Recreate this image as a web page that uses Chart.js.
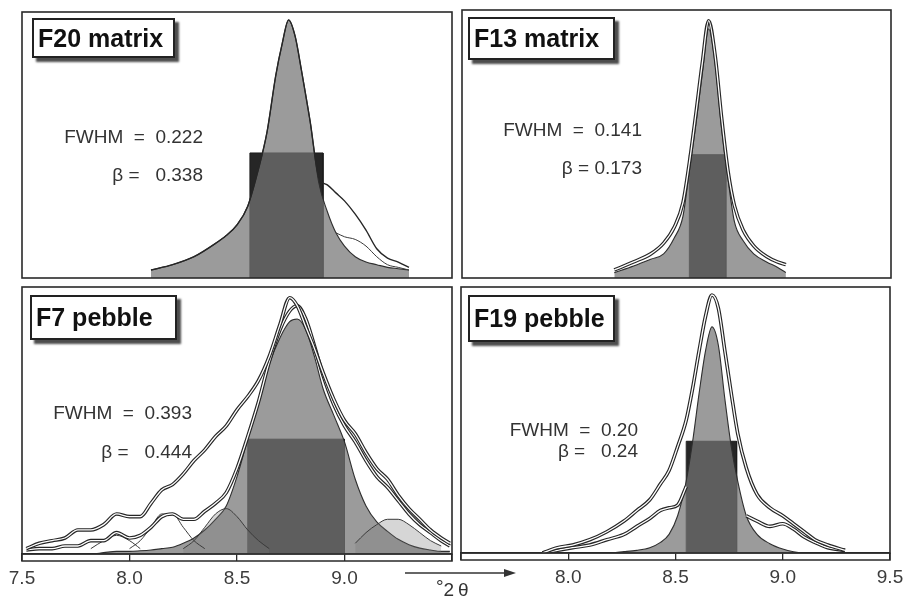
<!DOCTYPE html>
<html>
<head>
<meta charset="utf-8">
<script src="https://cdn.jsdelivr.net/npm/chart.js@4.4.0/dist/chart.umd.min.js"></script>
<style>
  html, body { margin: 0; padding: 0; background: #fff; }
  body { width: 905px; height: 599px; position: relative; overflow: hidden; font-family: "Liberation Sans", Arial, sans-serif; }
  .panel { position: absolute; }
  .panel canvas { display: block; }
  .title { position: absolute; background: #fff; border: 2px solid #222; box-shadow: 4px 4px 2px #4d4d4d; font-weight: bold; font-size: 25px; color: #111; padding-left: 4px; box-sizing: border-box; z-index: 5; white-space: nowrap; }
  .note { position: absolute; font-size: 19px; line-height: 22px; color: #333; white-space: pre; text-align: right; z-index: 5; }
  .unit { position: absolute; left: 436px; top: 579px; font-size: 19px; color: #333; z-index: 5; }
  .unit sup { font-size: 19px; position: relative; top: -3px; vertical-align: baseline; }
</style>
</head>
<body>

<div class="panel" id="pF20"><canvas></canvas></div>
<div class="panel" id="pF13"><canvas></canvas></div>
<div class="panel" id="pF7"><canvas></canvas></div>
<div class="panel" id="pF19"><canvas></canvas></div>

<div class="title" style="left:32px;top:18px;width:143px;height:40px;line-height:36px;">F20 matrix</div>
<div class="title" style="left:468px;top:17px;width:147px;height:43px;line-height:39px;">F13 matrix</div>
<div class="title" style="left:30px;top:295px;width:147px;height:45px;line-height:41px;">F7 pebble</div>
<div class="title" style="left:468px;top:295px;width:147px;height:47px;line-height:43px;">F19 pebble</div>

<div class="note" style="right:702px;top:126px;">FWHM  =  0.222</div>
<div class="note" style="right:702px;top:164px;">β =   0.338</div>
<div class="note" style="right:263px;top:119px;">FWHM  =  0.141</div>
<div class="note" style="right:263px;top:157px;">β = 0.173</div>
<div class="note" style="right:713px;top:402px;">FWHM  =  0.393</div>
<div class="note" style="right:713px;top:441px;">β =   0.444</div>
<div class="note" style="right:267px;top:419px;">FWHM  =  0.20</div>
<div class="note" style="right:267px;top:440px;">β =   0.24</div>

<svg style="position:absolute;left:400px;top:565px;z-index:5" width="120" height="16">
  <line x1="5" y1="8" x2="106" y2="8" stroke="#333" stroke-width="1.6"/>
  <polygon points="104,4 116,8 104,12" fill="#333"/>
</svg>
<div class="unit"><sup>°</sup>2&thinsp;θ</div>

<script>
// Peak profiles around 8.7 °2θ, intensities scaled to the panel height (0..1)

// F20 matrix
const f20Theta = [8.10, 8.20, 8.30, 8.40, 8.45, 8.50, 8.55, 8.60, 8.64, 8.68, 8.71, 8.74, 8.77, 8.80, 8.84, 8.88, 8.92, 8.96, 9.00, 9.05, 9.10, 9.15, 9.20, 9.25, 9.30];
const f20Fit = [0.03, 0.05, 0.08, 0.13, 0.16, 0.20, 0.27, 0.41, 0.55, 0.76, 0.88, 0.97, 0.91, 0.78, 0.59, 0.36, 0.25, 0.17, 0.12, 0.08, 0.06, 0.05, 0.04, 0.035, 0.03];
const f20Scan = [0.03, 0.05, 0.08, 0.13, 0.16, 0.20, 0.27, 0.41, 0.55, 0.76, 0.88, 0.97, 0.91, 0.78, 0.59, 0.38, 0.35, 0.32, 0.29, 0.24, 0.18, 0.11, 0.075, 0.06, 0.04];
const f20Shoulder = [[8.96, 0.17], [9.00, 0.155], [9.05, 0.145], [9.10, 0.12], [9.15, 0.08], [9.20, 0.05], [9.25, 0.04], [9.30, 0.03]];
const f20Box = [8.56, 8.90, 0.47]; // from, to, height

// F13 matrix
const f13Theta = [8.21, 8.30, 8.38, 8.44, 8.49, 8.53, 8.56, 8.59, 8.62, 8.65, 8.68, 8.71, 8.74, 8.77, 8.81, 8.86, 8.92, 8.97, 9.01];
const f13Fit = [0.02, 0.045, 0.07, 0.09, 0.15, 0.23, 0.40, 0.57, 0.76, 0.93, 0.80, 0.56, 0.37, 0.21, 0.14, 0.09, 0.06, 0.04, 0.02];
const f13Scan = [0.03, 0.06, 0.09, 0.13, 0.19, 0.28, 0.43, 0.61, 0.80, 0.96, 0.83, 0.60, 0.40, 0.27, 0.18, 0.12, 0.08, 0.06, 0.05];
const f13Box = [8.56, 8.73, 0.46];

// F7 pebble
const f7Theta = [7.52, 7.58, 7.64, 7.70, 7.76, 7.82, 7.88, 7.94, 8.00, 8.05, 8.10, 8.15, 8.20, 8.25, 8.30, 8.35, 8.40, 8.45, 8.50, 8.55, 8.60, 8.65, 8.70, 8.745, 8.78, 8.82, 8.86, 8.90, 8.95, 9.00, 9.05, 9.10, 9.15, 9.20, 9.25, 9.30, 9.35, 9.40, 9.45, 9.49];
const f7Outer = [0.02, 0.04, 0.05, 0.06, 0.09, 0.09, 0.11, 0.15, 0.14, 0.14, 0.19, 0.24, 0.26, 0.30, 0.35, 0.39, 0.44, 0.48, 0.54, 0.59, 0.65, 0.74, 0.86, 0.96, 0.93, 0.85, 0.77, 0.68, 0.58, 0.50, 0.45, 0.38, 0.32, 0.28, 0.22, 0.17, 0.13, 0.09, 0.06, 0.04];
const f7Inner = [0.015, 0.02, 0.02, 0.03, 0.03, 0.05, 0.05, 0.08, 0.06, 0.07, 0.10, 0.14, 0.15, 0.13, 0.13, 0.16, 0.19, 0.23, 0.32, 0.44, 0.57, 0.72, 0.84, 0.91, 0.93, 0.88, 0.78, 0.67, 0.56, 0.48, 0.42, 0.35, 0.29, 0.25, 0.20, 0.15, 0.11, 0.08, 0.05, 0.03];
const f7Fit = [0, 0, 0, 0, 0, 0, 0.005, 0.01, 0.01, 0.012, 0.015, 0.02, 0.025, 0.04, 0.06, 0.09, 0.13, 0.18, 0.29, 0.43, 0.56, 0.71, 0.81, 0.87, 0.88, 0.84, 0.74, 0.62, 0.52, 0.42, 0.28, 0.18, 0.12, 0.085, 0.055, 0.035, 0.022, 0.015, 0.01, 0.01];
const f7PeakA = [[7.82, 0.02], [7.88, 0.05], [7.94, 0.07], [8.00, 0.05], [8.05, 0.02]];
const f7PeakB = [[8.00, 0.02], [8.05, 0.05], [8.10, 0.10], [8.15, 0.15], [8.20, 0.15], [8.25, 0.10], [8.30, 0.05], [8.35, 0.02]];
const f7PeakC = [[8.25, 0.02], [8.30, 0.05], [8.35, 0.10], [8.40, 0.15], [8.45, 0.17], [8.50, 0.14], [8.55, 0.09], [8.60, 0.05], [8.65, 0.02]];
const f7PeakD = [[9.05, 0.04], [9.10, 0.08], [9.15, 0.11], [9.20, 0.13], [9.25, 0.13], [9.30, 0.11], [9.35, 0.08], [9.40, 0.05], [9.45, 0.03]];
const f7Box = [8.55, 9.00, 0.43];

// F19 pebble
const f19Theta = [7.88, 7.95, 8.02, 8.10, 8.18, 8.26, 8.32, 8.38, 8.43, 8.47, 8.51, 8.55, 8.58, 8.61, 8.64, 8.67, 8.70, 8.73, 8.76, 8.79, 8.83, 8.88, 8.94, 9.00, 9.05, 9.10, 9.15, 9.21, 9.29];
const f19Outer = [0.00, 0.02, 0.03, 0.05, 0.08, 0.12, 0.16, 0.20, 0.26, 0.31, 0.40, 0.50, 0.62, 0.76, 0.89, 0.97, 0.92, 0.76, 0.60, 0.45, 0.32, 0.22, 0.17, 0.14, 0.11, 0.08, 0.05, 0.03, 0.01];
const f19Fit = [0, 0, 0, 0, 0, 0.005, 0.01, 0.02, 0.04, 0.07, 0.14, 0.27, 0.42, 0.60, 0.76, 0.85, 0.78, 0.58, 0.40, 0.27, 0.14, 0.07, 0.035, 0.015, 0.005, 0, 0, 0, 0];
const f19LeftTail = [[7.88, 0], [7.95, 0.01], [8.02, 0.02], [8.10, 0.03], [8.18, 0.05], [8.26, 0.07], [8.32, 0.10], [8.38, 0.13], [8.43, 0.16], [8.47, 0.17], [8.51, 0.18], [8.55, 0.25]];
const f19RightTail = [[8.83, 0.14], [8.88, 0.12], [8.94, 0.10], [9.00, 0.11], [9.05, 0.09], [9.10, 0.06], [9.15, 0.04], [9.21, 0.02], [9.29, 0.01]];
const f19Box = [8.55, 8.785, 0.42];

const AXIS_H = 34;
const INK = '#262626';

function pts(xs, ys) {
    return xs.map((x, i) => ({ x, y: ys[i] }));
}
function pairs(list) {
    return list.map(p => ({ x: p[0], y: p[1] }));
}

// integral-breadth rectangle
function boxSet(b) {
    return {
        data: [{ x: b[0], y: 0 }, { x: b[0], y: b[2] }, { x: b[1], y: b[2] }, { x: b[1], y: 0 }],
        fill: 'origin', backgroundColor: '#262626', borderColor: '#1c1c1c', borderWidth: 1,
        cubicInterpolationMode: 'default', tension: 0, order: 10
    };
}
function fitSet(data) {
    return { data, fill: 'origin', backgroundColor: 'rgba(116,116,116,0.72)', borderColor: '#2e2e2e', borderWidth: 1.1, order: 9 };
}
function thinSet(data, fillColor) {
    return {
        data, borderColor: '#3a3a3a', borderWidth: 1,
        fill: fillColor ? 'origin' : false, backgroundColor: fillColor || 'transparent', order: 8
    };
}
// measured scans look like a white line with dark edges
function scanSets(data, order) {
    return [
        { data, borderColor: INK, borderWidth: 3.6, order: order + 1 },
        { data, borderColor: '#ffffff', borderWidth: 1.3, order }
    ];
}

// Draw the panel frame (and the double axis band on bottom panels)
const framePlugin = {
    id: 'frame',
    afterDraw(chart, args, opts) {
        const { ctx, chartArea: a } = chart;
        ctx.save();
        ctx.strokeStyle = '#2a2a2a';
        ctx.lineWidth = 1.6;
        ctx.strokeRect(a.left, a.top, a.right - a.left, a.bottom - a.top);
        if (opts.band) {
            ctx.beginPath();
            ctx.moveTo(a.left, a.bottom);
            ctx.lineTo(a.left, a.bottom + opts.band);
            ctx.lineTo(a.right, a.bottom + opts.band);
            ctx.lineTo(a.right, a.bottom);
            ctx.stroke();
        }
        ctx.restore();
    }
};

function drawPanel(id, frame, datasets, hiddenTick) {
    const hasAxis = hiddenTick !== undefined;
    const wrap = document.getElementById(id);
    const w = frame.r - frame.l + 40;
    const h = frame.b - frame.t + 8 + (hasAxis ? AXIS_H : 0);
    wrap.style.left = (frame.l - 20) + 'px';
    wrap.style.top = (frame.t - 4) + 'px';
    const canvas = wrap.querySelector('canvas');
    canvas.width = w;
    canvas.height = h;
    return new Chart(canvas, {
        type: 'line',
        data: { datasets },
        options: {
            responsive: false,
            animation: false,
            layout: { autoPadding: false, padding: { left: 20, right: 20, top: 4, bottom: 4 } },
            elements: {
                point: { radius: 0 },
                line: { cubicInterpolationMode: 'monotone', fill: false }
            },
            plugins: {
                legend: { display: false },
                tooltip: { enabled: false },
                frame: { band: hasAxis ? 7 : 0 }
            },
            scales: {
                x: {
                    type: 'linear', min: 7.5, max: 9.5, display: hasAxis,
                    afterFit: s => { if (hasAxis) s.height = AXIS_H; },
                    border: { display: true, color: '#2a2a2a', width: 1.6 },
                    grid: { drawOnChartArea: false, tickLength: 7, color: '#2a2a2a', lineWidth: 1.3 },
                    ticks: {
                        stepSize: 0.5, autoSkip: false, maxRotation: 0, padding: 6, color: '#3c3c3c',
                        font: { size: 19, family: '"Liberation Sans", Arial, sans-serif' },
                        callback: v => (v === hiddenTick ? '' : v.toFixed(1))
                    }
                },
                y: { display: false, min: 0, max: 1 }
            }
        },
        plugins: [framePlugin]
    });
}

drawPanel('pF20', { l: 22, t: 12, r: 452, b: 278 }, [
    boxSet(f20Box),
    fitSet(pts(f20Theta, f20Fit)),
    thinSet(pairs(f20Shoulder)),
    { data: pts(f20Theta, f20Scan), borderColor: INK, borderWidth: 1.4, order: 3 }
]);

drawPanel('pF13', { l: 462, t: 10, r: 891, b: 278 }, [
    boxSet(f13Box),
    fitSet(pts(f13Theta, f13Fit)),
    ...scanSets(pts(f13Theta, f13Scan), 2)
]);

drawPanel('pF7', { l: 22, t: 287, r: 452, b: 554 }, [
    boxSet(f7Box),
    fitSet(pts(f7Theta, f7Fit)),
    thinSet(pairs(f7PeakA)),
    thinSet(pairs(f7PeakB)),
    thinSet(pairs(f7PeakC), 'rgba(120,120,120,0.3)'),
    thinSet(pairs(f7PeakD), 'rgba(120,120,120,0.3)'),
    ...scanSets(pts(f7Theta, f7Inner), 6),
    ...scanSets(pts(f7Theta, f7Outer), 3)
], 9.5);

drawPanel('pF19', { l: 461, t: 287, r: 890, b: 553 }, [
    boxSet(f19Box),
    fitSet(pts(f19Theta, f19Fit)),
    ...scanSets(pairs(f19LeftTail), 6),
    ...scanSets(pairs(f19RightTail), 6),
    ...scanSets(pts(f19Theta, f19Outer), 3)
], 7.5);
</script>
</body>
</html>
